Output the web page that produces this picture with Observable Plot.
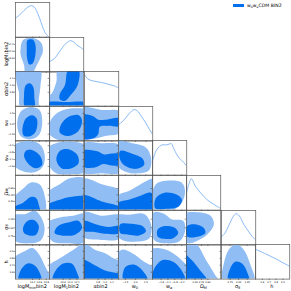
<!DOCTYPE html>
<html><head><meta charset="utf-8">
<script src="https://cdn.jsdelivr.net/npm/d3@7"></script>
<script src="https://cdn.jsdelivr.net/npm/@observablehq/plot@0.6"></script>
<style>
body{margin:0;background:#fff;font-family:"DejaVu Sans",sans-serif}
#wrap{position:relative;width:291px;height:291px;overflow:hidden;background:#fff}
.panel{position:absolute}
.xl{position:absolute;font-size:5px;line-height:5px;white-space:nowrap;transform:translate(-50%,0);color:#000}
.yl{position:absolute;font-size:5px;line-height:5px;white-space:nowrap;transform:translate(-50%,-50%) rotate(-90deg);color:#000}
sub{font-size:70%;vertical-align:-0.25em;line-height:0}
#leg{position:absolute;left:233px;top:2.5px;font-size:4.6px;white-space:nowrap;color:#000}
#leg span.sw{display:inline-block;width:11px;height:3.4px;background:#006FED;vertical-align:middle;margin-right:3px}
</style></head><body><div id="wrap"></div>
<script>
// ---------- parameters, axis ranges and ticks ----------
const paramNamesX = ["logM<sub>min</sub>bin2","logM<sub>1</sub>bin2","αbin2","w<sub>0</sub>","w<sub>a</sub>","Ω<sub>M</sub>","σ<sub>8</sub>","h"];
const paramNamesY = ["logM<sub>min</sub>bin2","logM<sub>1</sub>bin2","αbin2","w<sub>0</sub>","w<sub>a</sub>","Ω<sub>M</sub>","σ<sub>8</sub>","h"];
const rangeLo = [12.9, 12.8, 0.4, -2.5, -2.1, 0.1, 0.6, 0.5];
const rangeHi = [13.9, 14.8, 1.4, 2.5, -0.1, 0.9, 1.2, 1.0];
const tickVals = [[13.4,13.6,13.8],[13.6,14.0,14.4],[0.8,1.0,1.2],[-1.5,0,1.5],[-1.6,-1.2,-0.8,-0.4],[0.3,0.45,0.6],[0.75,0.9,1.05],[0.6,0.7,0.8,0.9]];
const tickText = [["13.4","13.6","13.8"],["13.6","14.0","14.4"],["0.8","1.0","1.2"],["−1.5","0.0","1.5"],["−1.6","−1.2","−0.8","−0.4"],["0.30","0.45","0.60"],["0.75","0.90","1.05"],["0.6","0.7","0.8","0.9"]];

// ---------- 1D marginals (x value, normalised density) ----------
const m0x = [12.9,13.0,13.1,13.2,13.3,13.37,13.45,13.55,13.65,13.75,13.85,13.9];
const m0y = [0.6,0.69,0.79,0.9,0.98,1.0,0.95,0.75,0.46,0.17,0.03,0.0];
const m1x = [12.8,13.1,13.4,13.7,13.9,14.04,14.2,14.4,14.6,14.8];
const m1y = [0.33,0.44,0.66,0.88,0.97,1.0,0.96,0.86,0.79,0.71];
const m2x = [0.4,0.5,0.65,0.9,1.15,1.3,1.4];
const m2y = [1.0,0.86,0.8,0.75,0.68,0.63,0.57];
const m3x = [-2.5,-1.75,-1.0,-0.25,0.25,0.75,1.5,2.0,2.5];
const m3y = [0.52,0.66,0.86,1.0,0.96,0.82,0.57,0.38,0.2];
const m4x = [-2.1,-1.84,-1.54,-1.3,-1.1,-1.0,-0.84,-0.56,-0.36,-0.1];
const m4y = [0.45,0.82,0.96,0.96,0.99,1.0,0.82,0.55,0.45,0.29];
const m5x = [0.1,0.156,0.212,0.308,0.428,0.58,0.74,0.9];
const m5y = [0.55,0.82,1.0,0.76,0.55,0.33,0.18,0.05];
const m6x = [0.6,0.66,0.75,0.81,0.858,0.912,0.99,1.08,1.14,1.2];
const m6y = [0.26,0.38,0.71,0.92,1.0,0.93,0.66,0.42,0.27,0.16];
const m7x = [0.5,0.65,0.8,0.9,1.0];
const m7y = [0.95,0.8,0.64,0.52,0.41];

// ---------- 2D contours: 95% (outer) and 68% (inner), [x, y] in parameter units ----------
const c10o = [[13.2,14.74],[13.45,14.76],[13.65,14.5],[13.7,14.0],[13.6,13.5],[13.45,12.9],[13.4,12.6],[13.2,12.6],[13.15,13.2],[13.05,13.8],[13.05,14.2],[13.1,14.6]];
const c10i = [[13.25,14.64],[13.4,14.68],[13.48,14.4],[13.48,13.8],[13.4,13.3],[13.3,13.24],[13.24,13.6],[13.23,14.2]];
const c20o = [[12.93,1.45],[13.62,1.45],[13.63,1.0],[13.58,0.6],[13.55,0.35],[13.05,0.35],[13.0,0.8],[12.93,1.1]];
const c20i = [[13.18,0.35],[13.15,0.7],[13.2,1.0],[13.32,1.06],[13.42,0.95],[13.45,0.65],[13.45,0.35]];
const c21o = [[12.7,0.35],[14.9,0.35],[14.9,1.45],[13.3,1.45],[13.2,1.1],[12.9,0.75],[12.7,0.7]];
const c21i = [[13.9,1.45],[14.5,1.45],[14.44,1.0],[14.0,0.7],[13.7,0.55],[13.4,0.6],[13.4,0.75],[13.7,1.0]];
const c21j = [[12.7,0.35],[14.9,0.35],[14.9,0.5],[13.8,0.52],[12.7,0.5]];
const c30o = [[12.95,0],[13.05,1.75],[13.3,2.4],[13.6,2.0],[13.68,0.5],[13.6,-1.5],[13.35,-2.25],[13.05,-1.75]];
const c30i = [[13.1,-1.0],[13.2,0.75],[13.38,1.25],[13.52,0.75],[13.5,-1.0],[13.35,-1.75],[13.15,-1.75]];
const c31o = [[12.7,-0.75],[13.0,1.0],[13.6,2.0],[14.4,2.25],[14.9,2.0],[14.9,-2.25],[14.0,-2.75],[13.2,-2.25],[12.8,-1.5]];
const c31i = [[13.4,-1.25],[13.5,0],[13.9,1.0],[14.5,1.25],[14.7,0.5],[14.5,-1.0],[13.9,-1.75]];
const c32o = [[0.35,2.25],[0.9,2.0],[1.45,1.75],[1.45,-1.25],[1.0,-1.75],[0.6,-2.25],[0.35,-2.25]];
const c32i = [[0.35,1.25],[0.65,1.1],[0.8,0.6],[1.0,0.6],[1.45,0.8],[1.45,-0.3],[1.1,-0.3],[0.85,-0.4],[0.8,-1.5],[0.65,-2.1],[0.35,-2.1]];
const c40o = [[12.85,-0.4],[13.2,-0.14],[13.6,-0.3],[13.75,-0.9],[13.7,-1.6],[13.45,-1.94],[13.1,-1.86],[12.85,-1.5]];
const c40i = [[13.2,-0.7],[13.4,-0.66],[13.62,-1.0],[13.68,-1.5],[13.5,-1.7],[13.3,-1.5],[13.15,-1.0]];
const c41o = [[12.76,-0.5],[13.4,-0.2],[14.4,-0.2],[14.9,-0.4],[14.9,-1.9],[14.0,-2.06],[13.2,-2.0],[12.76,-1.5]];
const c41i = [[13.2,-1.2],[13.4,-0.7],[13.9,-0.6],[14.4,-0.9],[14.5,-1.4],[14.1,-1.7],[13.5,-1.7]];
const c42o = [[0.35,-0.3],[0.9,-0.26],[1.45,-0.4],[1.45,-1.94],[0.9,-2.0],[0.35,-1.94]];
const c42i = [[0.35,-0.7],[0.8,-0.74],[0.95,-0.9],[1.15,-0.86],[1.45,-0.9],[1.45,-1.5],[1.2,-1.54],[0.95,-1.46],[0.7,-1.66],[0.35,-1.6]];
const c43o = [[-2.75,-0.2],[-0.5,-0.26],[1.5,-0.5],[2.25,-1.1],[2.0,-1.8],[0.5,-2.0],[-1.5,-1.9],[-2.75,-1.5]];
const c43i = [[-2.25,-0.7],[-0.5,-0.86],[1.0,-1.14],[1.25,-1.5],[0,-1.74],[-1.75,-1.5],[-2.35,-1.1]];
const c50o = [[12.85,0.06],[12.85,0.38],[13.1,0.58],[13.35,0.74],[13.6,0.7],[13.73,0.5],[13.75,0.06]];
const c50i = [[12.85,0.06],[12.85,0.164],[13.1,0.26],[13.35,0.404],[13.5,0.38],[13.58,0.22],[13.6,0.06]];
const c51o = [[12.7,0.06],[12.7,0.5],[13.4,0.7],[14.0,0.836],[14.9,0.82],[14.9,0.06]];
const c51i = [[12.7,0.06],[12.7,0.22],[13.4,0.34],[14.0,0.404],[14.9,0.404],[14.9,0.06]];
const c52o = [[0.35,0.06],[0.35,0.82],[0.9,0.7],[1.45,0.54],[1.45,0.06]];
const c52i = [[0.35,0.06],[0.35,0.436],[0.9,0.3],[1.45,0.164],[1.45,0.06]];
const c53o = [[-2.75,0.06],[-2.75,0.42],[-1.0,0.54],[0.75,0.7],[2.75,0.82],[2.75,0.06]];
const c53i = [[-2.75,0.06],[-2.75,0.26],[-1.0,0.34],[0.5,0.42],[2.25,0.5],[2.75,0.38],[2.75,0.06]];
const c54o = [[-2.2,0.26],[-1.9,0.7],[-1.3,0.78],[-0.4,0.74],[-0.2,0.54],[-0.4,0.26],[-1.1,0.06],[-1.9,0.06]];
const c54i = [[-1.94,0.14],[-1.9,0.38],[-1.4,0.5],[-0.7,0.46],[-0.38,0.34],[-0.6,0.18],[-1.3,0.132]];
const c60o = [[12.85,1.11],[13.2,1.14],[13.45,1.2],[13.62,1.11],[13.75,0.9],[13.65,0.69],[13.3,0.63],[12.85,0.69]];
const c60i = [[13.12,0.9],[13.25,1.02],[13.45,1.032],[13.58,0.93],[13.5,0.78],[13.3,0.768],[13.15,0.81]];
const c61o = [[12.7,0.99],[13.4,1.08],[14.2,1.11],[14.9,1.14],[14.9,0.66],[13.8,0.63],[13.0,0.66],[12.7,0.78]];
const c61i = [[13.1,0.81],[13.3,0.93],[13.9,0.99],[14.5,1.02],[14.7,0.9],[14.3,0.78],[13.5,0.768]];
const c62o = [[0.35,1.17],[0.9,1.11],[1.45,1.11],[1.45,0.72],[0.9,0.69],[0.35,0.75]];
const c62i = [[0.35,1.02],[0.8,0.948],[1.1,0.912],[1.45,0.93],[1.45,0.81],[1.0,0.798],[0.7,0.828],[0.35,0.852]];
const c63o = [[-2.75,1.11],[-1.0,1.128],[1.25,1.14],[2.25,0.96],[2.0,0.72],[0,0.66],[-2.0,0.69],[-2.75,0.78]];
const c63i = [[-2.25,0.81],[-2.25,0.96],[-0.75,0.972],[1.0,0.93],[1.5,0.84],[0.5,0.768],[-1.0,0.78]];
const c64o = [[-2.2,1.02],[-2.0,1.17],[-1.4,1.14],[-1.0,1.05],[-0.3,1.02],[-0.2,0.84],[-0.5,0.672],[-1.3,0.63],[-2.0,0.69]];
const c64i = [[-1.8,0.75],[-1.8,0.87],[-1.4,0.93],[-0.8,0.9],[-0.6,0.81],[-0.9,0.72],[-1.4,0.708]];
const c65o = [[0.06,0.66],[0.06,1.14],[0.34,1.17],[0.66,1.11],[0.74,0.96],[0.58,0.78],[0.34,0.672],[0.14,0.63]];
const c65i = [[0.116,0.75],[0.116,0.93],[0.3,0.96],[0.5,0.9],[0.54,0.81],[0.38,0.75]];
const c70o = [[12.85,0.475],[12.85,0.8],[13.15,0.9],[13.4,0.95],[13.6,0.85],[13.75,0.7],[13.9,0.55],[13.95,0.475]];
const c70i = [[13.0,0.475],[13.05,0.625],[13.25,0.725],[13.45,0.7],[13.6,0.6],[13.65,0.475]];
const c71o = [[12.7,0.475],[12.7,0.675],[13.4,0.8],[14.2,0.925],[14.8,1.025],[14.9,1.025],[14.9,0.475]];
const c71i = [[13.0,0.475],[13.1,0.6],[13.6,0.725],[14.1,0.725],[14.4,0.6],[14.5,0.475]];
const c72o = [[0.35,0.475],[0.35,1.025],[0.7,0.925],[1.0,0.875],[1.25,0.8],[1.45,0.75],[1.45,0.475]];
const c72i = [[0.35,0.475],[0.35,0.775],[0.7,0.7],[1.0,0.625],[1.45,0.56],[1.45,0.475]];
const c73o = [[-2.75,0.475],[-2.75,0.85],[-2.0,0.925],[-0.5,0.875],[1.25,0.75],[2.75,0.65],[2.75,0.475]];
const c73i = [[-1.75,0.475],[-1.5,0.675],[-0.25,0.71],[1.0,0.625],[1.75,0.475]];
const c74o = [[-2.2,0.475],[-2.2,0.925],[-1.5,0.94],[-0.9,0.875],[-0.3,0.75],[0,0.65],[0,0.475]];
const c74i = [[-2.1,0.475],[-2.0,0.65],[-1.5,0.775],[-0.9,0.75],[-0.4,0.625],[-0.2,0.475]];
const c75o = [[0.06,0.475],[0.06,1.025],[0.3,1.025],[0.58,0.75],[0.78,0.55],[0.86,0.475]];
const c75i = [[0.06,0.475],[0.06,0.85],[0.22,0.775],[0.42,0.625],[0.58,0.475]];
const c76o = [[0.63,0.475],[0.648,0.75],[0.75,0.95],[0.87,1.0],[0.99,0.925],[1.11,0.7],[1.17,0.475]];
const c76i = [[0.72,0.475],[0.75,0.65],[0.84,0.75],[0.96,0.725],[1.05,0.6],[1.08,0.475]];

// ---------- tables built from the arrays ----------
const marginals = [[m0x,m0y],[m1x,m1y],[m2x,m2y],[m3x,m3y],[m4x,m4y],[m5x,m5y],[m6x,m6y],[m7x,m7y]];
const contours = {
  "1-0":[c10o,[c10i]], "2-0":[c20o,[c20i]], "2-1":[c21o,[c21i,c21j]],
  "3-0":[c30o,[c30i]], "3-1":[c31o,[c31i]], "3-2":[c32o,[c32i]],
  "4-0":[c40o,[c40i]], "4-1":[c41o,[c41i]], "4-2":[c42o,[c42i]], "4-3":[c43o,[c43i]],
  "5-0":[c50o,[c50i]], "5-1":[c51o,[c51i]], "5-2":[c52o,[c52i]], "5-3":[c53o,[c53i]], "5-4":[c54o,[c54i]],
  "6-0":[c60o,[c60i]], "6-1":[c61o,[c61i]], "6-2":[c62o,[c62i]], "6-3":[c63o,[c63i]], "6-4":[c64o,[c64i]], "6-5":[c65o,[c65i]],
  "7-0":[c70o,[c70i]], "7-1":[c71o,[c71i]], "7-2":[c72o,[c72i]], "7-3":[c73o,[c73i]], "7-4":[c74o,[c74i]], "7-5":[c75o,[c75i]], "7-6":[c76o,[c76i]]
};

const DARK = "#006FED", LIGHT = "#8FBDF4", LINE = "#5A9EF0", FRAME = "#555";
const N = 8, X0 = 15, Y0 = 2, W = 34.25, H = 34.6;
const wrap = document.getElementById("wrap");
const fmtFor = i => (d => { const k = tickVals[i].indexOf(d); return k >= 0 ? tickText[i][k] : ""; });

function axisMarks(r, c, diag) {
  const ms = [];
  ms.push(Plot.axisX({ticks: tickVals[c], tickSize: 1.4, tickPadding: 0.5, fontSize: 2.4,
    stroke: "#333", strokeWidth: 0.5, tickFormat: r === N - 1 ? fmtFor(c) : () => "", label: null}));
  if (!diag) {
    ms.push(Plot.axisY({ticks: tickVals[r], tickSize: 1.4, tickPadding: 0.5, fontSize: 2.4,
      stroke: "#333", strokeWidth: 0.5, tickFormat: c === 0 ? fmtFor(r) : () => "", label: null}));
  }
  return ms;
}

for (let r = 0; r < N; r++) {
  for (let c = 0; c <= r; c++) {
    let svg;
    if (r === c) {
      const [xs, ys] = marginals[c];
      const pts = xs.map((x, k) => ({x, y: ys[k]}));
      svg = Plot.plot({
        width: W, height: H, margin: 0,
        style: {overflow: "visible", background: "transparent", fontFamily: "DejaVu Sans"},
        x: {domain: [rangeLo[c], rangeHi[c]], axis: null},
        y: {domain: [0, 1.1], axis: null},
        marks: [
          Plot.line(pts, {x: "x", y: "y", curve: "catmull-rom", stroke: LINE, strokeWidth: 0.7, clip: true}),
          Plot.frame({stroke: FRAME, strokeWidth: 0.7}),
          ...axisMarks(r, c, true)
        ]
      });
    } else {
      const [outer, inners] = contours[r + "-" + c];
      const toObj = poly => poly.map(p => ({x: p[0], y: p[1]}));
      svg = Plot.plot({
        width: W, height: H, margin: 0,
        style: {overflow: "visible", background: "transparent", fontFamily: "DejaVu Sans"},
        x: {domain: [rangeLo[c], rangeHi[c]], axis: null},
        y: {domain: [rangeLo[r], rangeHi[r]], axis: null},
        marks: [
          Plot.line(toObj(outer), {x: "x", y: "y", curve: "catmull-rom-closed", fill: LIGHT, stroke: "none", clip: true}),
          ...inners.map(p => Plot.line(toObj(p), {x: "x", y: "y", curve: "catmull-rom-closed", fill: DARK, stroke: "none", clip: true})),
          Plot.frame({stroke: FRAME, strokeWidth: 0.7}),
          ...axisMarks(r, c, false)
        ]
      });
    }
    svg.classList.add("panel");
    svg.style.left = (X0 + c * W) + "px";
    svg.style.top = (Y0 + r * H) + "px";
    wrap.appendChild(svg);
  }
}

// axis titles
for (let c = 0; c < N; c++) {
  const d = document.createElement("div");
  d.className = "xl";
  d.innerHTML = paramNamesX[c];
  d.style.left = (X0 + (c + 0.5) * W) + "px";
  d.style.top = (Y0 + N * H + 5.2) + "px";
  wrap.appendChild(d);
}
for (let r = 1; r < N; r++) {
  const d = document.createElement("div");
  d.className = "yl";
  d.innerHTML = paramNamesY[r];
  d.style.left = "5.5px";
  d.style.top = (Y0 + (r + 0.5) * H) + "px";
  wrap.appendChild(d);
}
// legend
const leg = document.createElement("div");
leg.id = "leg";
leg.innerHTML = '<span class="sw"></span>w<sub>0</sub>w<sub>a</sub>CDM BIN2';
wrap.appendChild(leg);
</script></body></html>
